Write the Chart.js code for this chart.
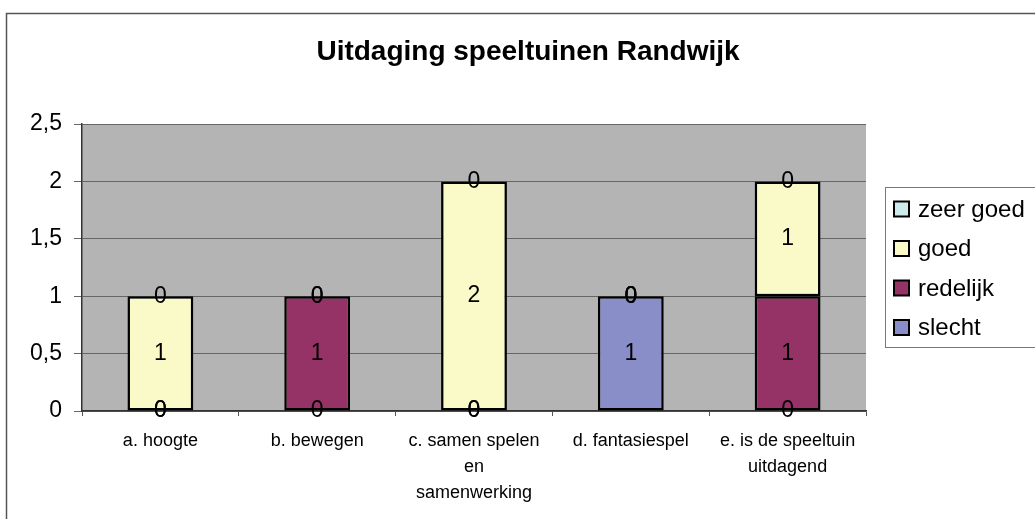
<!DOCTYPE html>
<html>
<head>
<meta charset="utf-8">
<script src="https://cdn.jsdelivr.net/npm/chart.js@4"></script>
<style>
  body { margin: 0; background: #fff; }
  canvas { display: block; }
</style>
</head>
<body>
<canvas id="chart" width="1035" height="519"></canvas>
<script>
// === Data ===
const chartTitle = "Uitdaging speeltuinen Randwijk";
const categories = [
    "a. hoogte",
    "b. bewegen",
    ["c. samen spelen", "en", "samenwerking"],
    "d. fantasiespel",
    ["e. is de speeltuin", "uitdagend"]
];
const slecht   = [0, 0, 0, 1, 0];
const redelijk = [0, 1, 0, 0, 1];
const goed     = [1, 0, 2, 0, 1];
const zeerGoed = [0, 0, 0, 0, 0];
const yTickLabels = ["0", "0,5", "1", "1,5", "2", "2,5"];

const FONT = "'Liberation Sans', Arial, sans-serif";

// === Plugins: plot background, frame, title, value labels, legend ===
const decorPlugin = {
    id: "decor",
    beforeDraw(chart) {
        const c = chart.ctx;
        const a = chart.chartArea;
        c.save();
        c.fillStyle = "#b4b4b4";
        c.fillRect(a.left, a.top, a.right - a.left, a.bottom - a.top);
        // outer frame
        c.strokeStyle = "#555";
        c.lineWidth = 1.5;
        c.strokeRect(6.5, 13.5, 1200, 700);
        // title
        c.fillStyle = "#000";
        c.font = "bold 28px " + FONT;
        c.textAlign = "center";
        c.textBaseline = "middle";
        c.fillText(chartTitle, 528, 52);
        c.restore();
    },
    afterDatasetsDraw(chart) {
        const c = chart.ctx;
        c.save();
        c.fillStyle = "#000";
        c.font = "23px " + FONT;
        c.textAlign = "center";
        c.textBaseline = "middle";
        chart.data.datasets.forEach((ds, i) => {
            chart.getDatasetMeta(i).data.forEach((bar, j) => {
                const y = (bar.y + bar.base) / 2;
                c.fillText(String(ds.data[j]), bar.x, y);
            });
        });
        c.restore();
    },
    afterDraw(chart) {
        const c = chart.ctx;
        c.save();
        // legend box
        c.fillStyle = "#fff";
        c.fillRect(885, 187, 200, 160);
        c.strokeStyle = "#777";
        c.lineWidth = 1;
        c.strokeRect(885.5, 187.5, 200, 160);
        const items = chart.data.datasets.slice().reverse();
        c.font = "24px " + FONT;
        c.textBaseline = "middle";
        c.textAlign = "left";
        items.forEach((ds, k) => {
            const y = 209 + k * 39.5;
            c.fillStyle = ds.backgroundColor;
            c.fillRect(894, y - 7.5, 15, 15);
            c.strokeStyle = "#000";
            c.lineWidth = 2;
            c.strokeRect(894, y - 7.5, 15, 15);
            c.fillStyle = "#000";
            c.fillText(ds.label, 918, y + 1);
        });
        c.restore();
    }
};

function series(label, data, color) {
    return {
        label: label,
        data: data,
        backgroundColor: color,
        borderColor: "#000",
        borderWidth: 2.5,
        borderSkipped: false,
        barPercentage: 0.42,
        categoryPercentage: 1
    };
}

const chart = new Chart(document.getElementById("chart").getContext("2d"), {
    type: "bar",
    data: {
        labels: categories,
        datasets: [
            series("slecht", slecht, "#8a8ec8"),
            series("redelijk", redelijk, "#963366"),
            series("goed", goed, "#fafac8"),
            series("zeer goed", zeerGoed, "#ccecec")
        ]
    },
    options: {
        responsive: false,
        animation: false,
        layout: { padding: { left: 22, right: 169, top: 124, bottom: 0 } },
        plugins: {
            legend: { display: false },
            tooltip: { enabled: false },
            title: { display: false }
        },
        scales: {
            x: {
                stacked: true,
                afterFit: (s) => { s.height = 108; },
                grid: {
                    offset: true,
                    drawOnChartArea: false,
                    drawTicks: true,
                    tickLength: 5,
                    color: "#555"
                },
                border: { display: true, color: "#333", width: 1.5 },
                ticks: {
                    color: "#000",
                    padding: 12,
                    font: { family: FONT, size: 18, lineHeight: 1.45 }
                }
            },
            y: {
                stacked: true,
                min: 0,
                max: 2.5,
                afterFit: (s) => { s.width = 60; },
                grid: { color: "#666", tickLength: 8, lineWidth: 1 },
                border: { display: true, color: "#333", width: 1.5 },
                ticks: {
                    stepSize: 0.5,
                    color: "#000",
                    padding: 12,
                    font: { family: FONT, size: 23 },
                    callback: (v, i) => yTickLabels[i]
                }
            }
        }
    },
    plugins: [decorPlugin]
});
</script>
</body>
</html>
